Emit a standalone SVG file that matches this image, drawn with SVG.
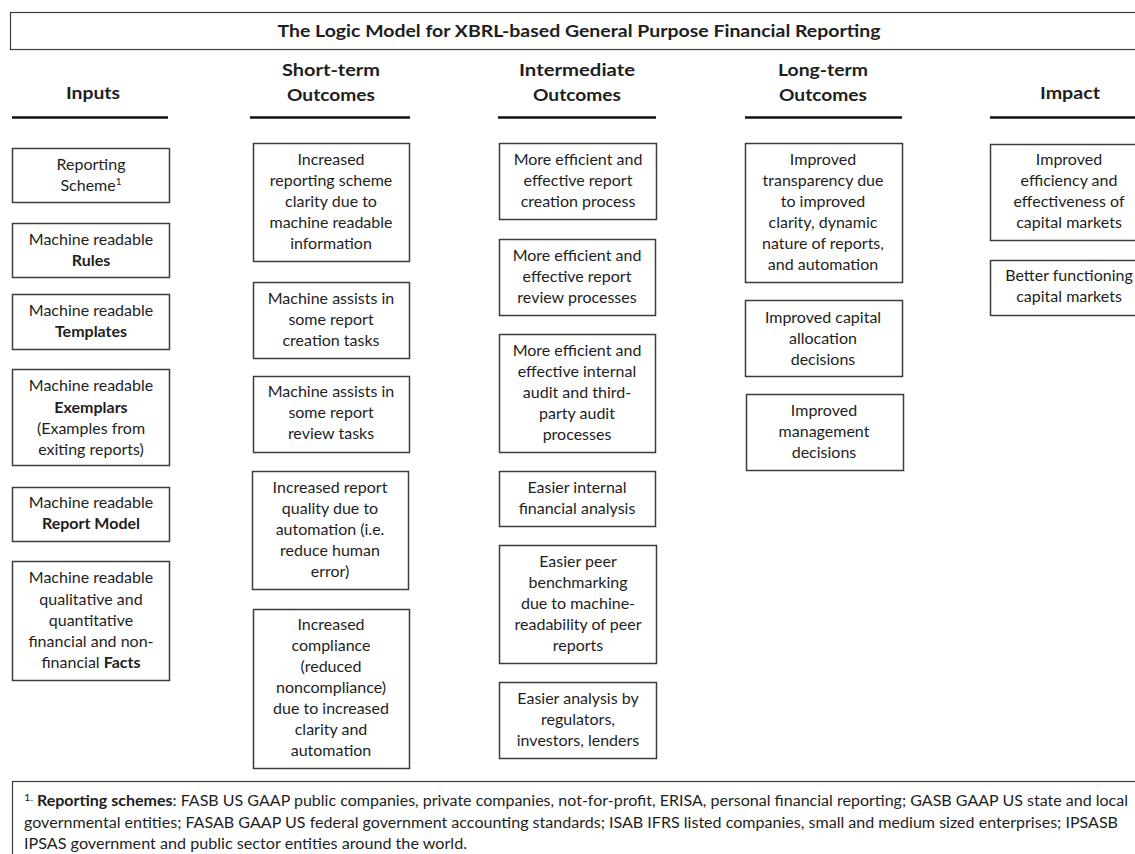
<svg xmlns="http://www.w3.org/2000/svg" width="1135" height="854" viewBox="0 0 1135 854">
<style>
.bg{fill:#ffffff}
.box{fill:#ffffff;stroke:#3c3c3c;stroke-width:1.5}
.frame{fill:#ffffff;stroke:#3c3c3c;stroke-width:1.2}
.ul{stroke:#111111;stroke-width:2.6}
text{font-family:Lato,"Liberation Sans",Arial,sans-serif;fill:#1e1e1e}
.t{font-size:16px;text-anchor:middle}
.b{font-weight:bold}
.h{font-size:17px;font-weight:bold;text-anchor:middle}
.fn{font-size:14.5px}
.sup{font-size:10px}
</style>
<rect class="bg" x="0" y="0" width="1135" height="854"/>

<g id="title">
  <rect class="frame" x="10.5" y="12.5" width="1135" height="37"/>
  <text class="h" x="579" y="37" textLength="603" lengthAdjust="spacingAndGlyphs">The Logic Model for XBRL-based General Purpose Financial Reporting</text>
</g>

<g id="headers">
  <text class="h" x="93" y="99" textLength="54" lengthAdjust="spacingAndGlyphs">Inputs</text>
  <line class="ul" x1="12" y1="117.5" x2="168" y2="117.5"/>
  <text class="h" x="331" y="76" textLength="98" lengthAdjust="spacingAndGlyphs">Short-term</text>
  <text class="h" x="331" y="101" textLength="88" lengthAdjust="spacingAndGlyphs">Outcomes</text>
  <line class="ul" x1="250" y1="117.5" x2="410" y2="117.5"/>
  <text class="h" x="577" y="76" textLength="116" lengthAdjust="spacingAndGlyphs">Intermediate</text>
  <text class="h" x="577" y="101" textLength="88" lengthAdjust="spacingAndGlyphs">Outcomes</text>
  <line class="ul" x1="498" y1="117.5" x2="656" y2="117.5"/>
  <text class="h" x="823" y="76" textLength="90" lengthAdjust="spacingAndGlyphs">Long-term</text>
  <text class="h" x="823" y="101" textLength="88" lengthAdjust="spacingAndGlyphs">Outcomes</text>
  <line class="ul" x1="745" y1="117.5" x2="902" y2="117.5"/>
  <text class="h" x="1070" y="99" textLength="60" lengthAdjust="spacingAndGlyphs">Impact</text>
  <line class="ul" x1="990" y1="117.5" x2="1135" y2="117.5"/>
</g>

<g id="connectors"></g>

<!-- Inputs -->
<g id="in-scheme">
  <rect class="box" x="12.5" y="148.5" width="157" height="54"/>
  <text class="t" x="91" y="170">Reporting</text>
  <text class="t" x="91" y="191">Scheme<tspan class="sup" dy="-6">1</tspan></text>
</g>
<g id="in-rules">
  <rect class="box" x="12.5" y="223.5" width="157" height="54"/>
  <text class="t" x="91" y="245">Machine readable</text>
  <text class="t b" x="91" y="266">Rules</text>
</g>
<g id="in-templates">
  <rect class="box" x="12.5" y="294.5" width="157" height="55"/>
  <text class="t" x="91" y="316">Machine readable</text>
  <text class="t b" x="91" y="337">Templates</text>
</g>
<g id="in-exemplars">
  <rect class="box" x="12.5" y="369.5" width="157" height="96"/>
  <text class="t" x="91" y="391">Machine readable</text>
  <text class="t b" x="91" y="413">Exemplars</text>
  <text class="t" x="91" y="434">(Examples from</text>
  <text class="t" x="91" y="455">exiting reports)</text>
</g>
<g id="in-reportmodel">
  <rect class="box" x="12.5" y="487.5" width="157" height="54"/>
  <text class="t" x="91" y="508">Machine readable</text>
  <text class="t b" x="91" y="529">Report Model</text>
</g>
<g id="in-facts">
  <rect class="box" x="12.5" y="561.5" width="157" height="119"/>
  <text class="t" x="91" y="583">Machine readable</text>
  <text class="t" x="91" y="605">qualitative and</text>
  <text class="t" x="91" y="626">quantitative</text>
  <text class="t" x="91" y="647">financial and non-</text>
  <text class="t" x="91" y="668">financial <tspan class="b">Facts</tspan></text>
</g>

<!-- Short-term outcomes -->
<g id="st-clarity">
  <rect class="box" x="253.5" y="143.5" width="156" height="118"/>
  <text class="t" x="331" y="165">Increased</text>
  <text class="t" x="331" y="186">reporting scheme</text>
  <text class="t" x="331" y="207">clarity due to</text>
  <text class="t" x="331" y="228">machine readable</text>
  <text class="t" x="331" y="249">information</text>
</g>
<g id="st-creation">
  <rect class="box" x="253.5" y="282.5" width="156" height="76"/>
  <text class="t" x="331" y="304">Machine assists in</text>
  <text class="t" x="331" y="325">some report</text>
  <text class="t" x="331" y="346">creation tasks</text>
</g>
<g id="st-review">
  <rect class="box" x="253.5" y="376.5" width="156" height="76"/>
  <text class="t" x="331" y="397">Machine assists in</text>
  <text class="t" x="331" y="418">some report</text>
  <text class="t" x="331" y="439">review tasks</text>
</g>
<g id="st-quality">
  <rect class="box" x="252.5" y="471.5" width="156" height="118"/>
  <text class="t" x="330" y="493">Increased report</text>
  <text class="t" x="330" y="514">quality due to</text>
  <text class="t" x="330" y="535">automation (i.e.</text>
  <text class="t" x="330" y="556">reduce human</text>
  <text class="t" x="330" y="577">error)</text>
</g>
<g id="st-compliance">
  <rect class="box" x="253.5" y="609.5" width="156" height="159"/>
  <text class="t" x="331" y="630">Increased</text>
  <text class="t" x="331" y="651">compliance</text>
  <text class="t" x="331" y="672">(reduced</text>
  <text class="t" x="331" y="693">noncompliance)</text>
  <text class="t" x="331" y="714">due to increased</text>
  <text class="t" x="331" y="735">clarity and</text>
  <text class="t" x="331" y="756">automation</text>
</g>

<!-- Intermediate outcomes -->
<g id="im-creation">
  <rect class="box" x="499.5" y="143.5" width="157" height="76"/>
  <text class="t" x="578" y="165">More efficient and</text>
  <text class="t" x="578" y="186">effective report</text>
  <text class="t" x="578" y="207">creation process</text>
</g>
<g id="im-review">
  <rect class="box" x="499.5" y="239.5" width="156" height="76"/>
  <text class="t" x="577" y="261">More efficient and</text>
  <text class="t" x="577" y="282">effective report</text>
  <text class="t" x="577" y="303">review processes</text>
</g>
<g id="im-audit">
  <rect class="box" x="499.5" y="334.5" width="156" height="118"/>
  <text class="t" x="577" y="356">More efficient and</text>
  <text class="t" x="577" y="377">effective internal</text>
  <text class="t" x="577" y="398">audit and third-</text>
  <text class="t" x="577" y="419">party audit</text>
  <text class="t" x="577" y="440">processes</text>
</g>
<g id="im-internal">
  <rect class="box" x="499.5" y="471.5" width="156" height="55"/>
  <text class="t" x="577" y="493">Easier internal</text>
  <text class="t" x="577" y="514">financial analysis</text>
</g>
<g id="im-peer">
  <rect class="box" x="499.5" y="545.5" width="157" height="118"/>
  <text class="t" x="578" y="567">Easier peer</text>
  <text class="t" x="578" y="588">benchmarking</text>
  <text class="t" x="578" y="609">due to machine-</text>
  <text class="t" x="578" y="630">readability of peer</text>
  <text class="t" x="578" y="651">reports</text>
</g>
<g id="im-analysis">
  <rect class="box" x="499.5" y="682.5" width="157" height="76"/>
  <text class="t" x="578" y="704">Easier analysis by</text>
  <text class="t" x="578" y="725">regulators,</text>
  <text class="t" x="578" y="746">investors, lenders</text>
</g>

<!-- Long-term outcomes -->
<g id="lt-transparency">
  <rect class="box" x="745.5" y="143.5" width="157" height="139"/>
  <text class="t" x="823" y="165">Improved</text>
  <text class="t" x="823" y="186">transparency due</text>
  <text class="t" x="823" y="207">to improved</text>
  <text class="t" x="823" y="228">clarity, dynamic</text>
  <text class="t" x="823" y="249">nature of reports,</text>
  <text class="t" x="823" y="270">and automation</text>
</g>
<g id="lt-capital">
  <rect class="box" x="745.5" y="300.5" width="157" height="76"/>
  <text class="t" x="823" y="323">Improved capital</text>
  <text class="t" x="823" y="344">allocation</text>
  <text class="t" x="823" y="365">decisions</text>
</g>
<g id="lt-management">
  <rect class="box" x="746.5" y="394.5" width="157" height="76"/>
  <text class="t" x="824" y="416">Improved</text>
  <text class="t" x="824" y="437">management</text>
  <text class="t" x="824" y="458">decisions</text>
</g>

<!-- Impact -->
<g id="ip-efficiency">
  <rect class="box" x="990.5" y="144.5" width="157" height="96"/>
  <text class="t" x="1069" y="165">Improved</text>
  <text class="t" x="1069" y="186">efficiency and</text>
  <text class="t" x="1069" y="207">effectiveness of</text>
  <text class="t" x="1069" y="228">capital markets</text>
</g>
<g id="ip-functioning">
  <rect class="box" x="990.5" y="260.5" width="157" height="55"/>
  <text class="t" x="1069" y="281">Better functioning</text>
  <text class="t" x="1069" y="302">capital markets</text>
</g>

<!-- Footnote -->
<g id="footnote">
  <rect class="frame" x="12.5" y="781.5" width="1135" height="90"/>
  <text class="fn" x="24" y="806" textLength="1104" lengthAdjust="spacingAndGlyphs"><tspan class="sup" dy="-5">1.</tspan><tspan dy="5" class="b"> Reporting schemes</tspan>: FASB US GAAP public companies, private companies, not-for-profit,  ERISA, personal financial reporting; GASB GAAP US state and local</text>
  <text class="fn" x="24" y="828" textLength="1094" lengthAdjust="spacingAndGlyphs">governmental  entities; FASAB GAAP US federal government  accounting standards; ISAB IFRS listed companies, small and medium sized enterprises; IPSASB</text>
  <text class="fn" x="24" y="849" textLength="443" lengthAdjust="spacingAndGlyphs">IPSAS government  and public sector entities around the world.</text>
</g>
</svg>
